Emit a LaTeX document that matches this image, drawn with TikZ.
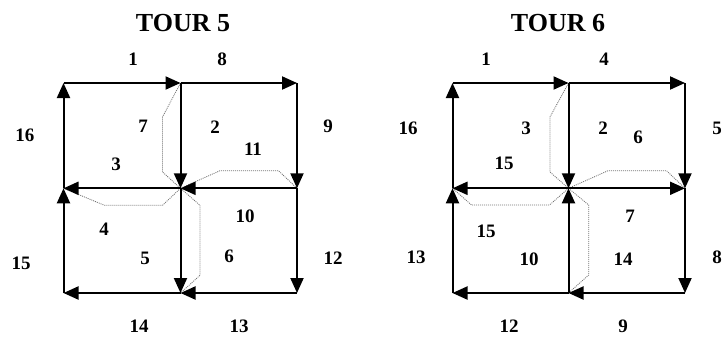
\documentclass[tikz,border=0pt]{standalone}
\usepackage{fontspec}
\setmainfont{Liberation Serif}
\usetikzlibrary{arrows.meta}
\begin{document}
\begin{tikzpicture}[x=1pt,y=-1pt,
  edge/.style={line width=2pt, -{Triangle[length=15pt,width=13pt]}},
  tourpath/.style={black!55, line width=0.8pt, dash pattern=on 1pt off 1pt},
  lbl/.style={font=\fontsize{19}{19}\selectfont\bfseries, inner sep=0pt},
  ttl/.style={font=\fontsize{26}{26}\selectfont\bfseries, inner sep=0pt}]
\useasboundingbox (0,0) rectangle (722,337);

% ---------- TOUR 5 ----------
\coordinate (a-TL) at (63.5,83);  \coordinate (a-TC) at (180.5,83);  \coordinate (a-TR) at (297,83);
\coordinate (a-ML) at (63.5,188.3); \coordinate (a-MC) at (180.5,188.3); \coordinate (a-MR) at (297,188.3);
\coordinate (a-BL) at (63.5,293); \coordinate (a-BC) at (180.5,293); \coordinate (a-BR) at (297,293);

\draw[tourpath] (a-TC) -- ++(-18,34) -- ++(0,55) -- (a-MC);
\draw[tourpath] (a-MR) -- ++(-18.5,-17.6) -- ++(-58.5,0) -- (a-MC);
\draw[tourpath] (a-MC) -- ++(-18,17) -- ++(-58,0) -- (a-ML);
\draw[tourpath] (a-MC) -- ++(19.5,17) -- ++(0,70) -- (a-BC);

\draw[edge] (a-TL) -- (a-TC);
\draw[edge] (a-TC) -- (a-TR);
\draw[edge] (a-TR) -- (a-MR);
\draw[edge] (a-MR) -- (a-MC);
\draw[edge] (a-MR) -- (a-BR);
\draw[edge] (a-BR) -- (a-BC);
\draw[edge] (a-BC) -- (a-BL);
\draw[edge] (a-BL) -- (a-ML);
\draw[edge] (a-ML) -- (a-TL);
\draw[edge] (a-TC) -- (a-MC);
\draw[edge] (a-MC) -- (a-ML);
\draw[edge] (a-MC) -- (a-BC);

\node[ttl] (a-title) at (183,23) {TOUR 5};
\node[lbl] (a-l1)  at (133,59)  {1};
\node[lbl] (a-l8)  at (222,59)  {8};
\node[lbl] (a-l16) at (25,135)  {16};
\node[lbl] (a-l7)  at (143,126) {7};
\node[lbl] (a-l2)  at (215,127) {2};
\node[lbl] (a-l9)  at (328,126) {9};
\node[lbl] (a-l11) at (253,149) {11};
\node[lbl] (a-l3)  at (116,164) {3};
\node[lbl] (a-l10) at (245,216) {10};
\node[lbl] (a-l4)  at (104,229) {4};
\node[lbl] (a-l15) at (21,263)  {15};
\node[lbl] (a-l5)  at (145,258) {5};
\node[lbl] (a-l6)  at (229,256) {6};
\node[lbl] (a-l12) at (333,258) {12};
\node[lbl] (a-l14) at (139,326) {14};
\node[lbl] (a-l13) at (239,326) {13};

% ---------- TOUR 6 ----------
\coordinate (b-TL) at (452.5,83);  \coordinate (b-TC) at (568.5,83);  \coordinate (b-TR) at (685,83);
\coordinate (b-ML) at (452.5,188.3); \coordinate (b-MC) at (568.5,188.3); \coordinate (b-MR) at (685,188.3);
\coordinate (b-BL) at (452.5,293); \coordinate (b-BC) at (568.5,293); \coordinate (b-BR) at (685,293);

\draw[tourpath] (b-TC) -- ++(-18.5,34) -- ++(0,55) -- (b-MC);
\draw[tourpath] (b-MC) -- ++(39.5,-17.6) -- ++(58.5,0) -- (b-MR);
\draw[tourpath] (b-ML) -- ++(19,16.7) -- ++(78,0) -- (b-MC);
\draw[tourpath] (b-MC) -- ++(20.2,16.7) -- ++(0,70) -- (b-BC);

\draw[edge] (b-TL) -- (b-TC);
\draw[edge] (b-TC) -- (b-TR);
\draw[edge] (b-TR) -- (b-MR);
\draw[edge] (b-MC) -- (b-MR);
\draw[edge] (b-MR) -- (b-BR);
\draw[edge] (b-BR) -- (b-BC);
\draw[edge] (b-BC) -- (b-MC);
\draw[edge] (b-BC) -- (b-BL);
\draw[edge] (b-BL) -- (b-ML);
\draw[edge] (b-ML) -- (b-TL);
\draw[edge] (b-TC) -- (b-MC);
\draw[edge] (b-MC) -- (b-ML);

\node[ttl] (b-title) at (558,23) {TOUR 6};
\node[lbl] (b-l1)  at (486,59)  {1};
\node[lbl] (b-l4)  at (604,59)  {4};
\node[lbl] (b-l16) at (408,128) {16};
\node[lbl] (b-l3)  at (526,128) {3};
\node[lbl] (b-l2)  at (603,128) {2};
\node[lbl] (b-l6)  at (638,137) {6};
\node[lbl] (b-l5)  at (717,128) {5};
\node[lbl] (b-l15a) at (504,163) {15};
\node[lbl] (b-l7)  at (630,216) {7};
\node[lbl] (b-l15b) at (486,231) {15};
\node[lbl] (b-l13) at (416,257) {13};
\node[lbl] (b-l10) at (529,259) {10};
\node[lbl] (b-l14) at (623,259) {14};
\node[lbl] (b-l8)  at (717,257) {8};
\node[lbl] (b-l12) at (509,326) {12};
\node[lbl] (b-l9)  at (623,326) {9};
\end{tikzpicture}
\end{document}
